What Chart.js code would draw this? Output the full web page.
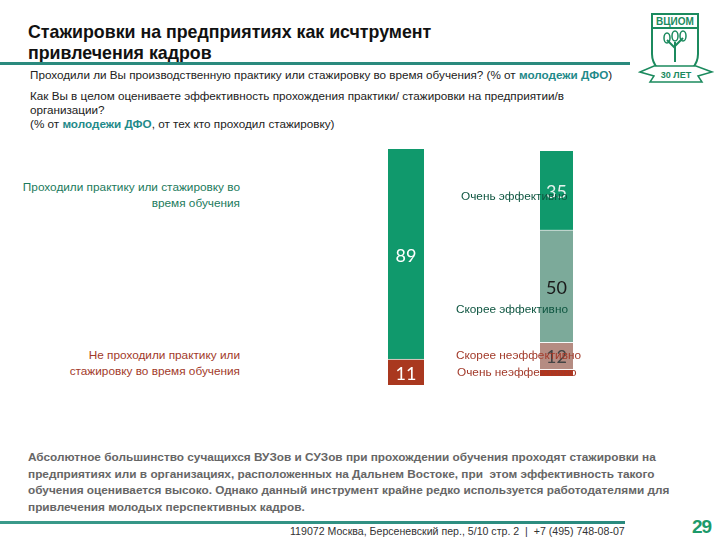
<!DOCTYPE html>
<html><head><meta charset="utf-8">
<script src="https://cdn.jsdelivr.net/npm/chart.js@4"></script>
<style>
html,body{margin:0;padding:0;background:#fff;}
#page{position:relative;width:720px;height:540px;overflow:hidden;font-family:"Liberation Sans",Arial,sans-serif;}
.abs{position:absolute;white-space:nowrap;}
.t{font-weight:bold;font-size:17.8px;color:#111;line-height:21px;}
.q{font-size:11.7px;color:#222;line-height:14px;}
.q b{color:#1f8a8a;}
.lbl{font-size:11.8px;line-height:16px;}
.g{color:#1b7a5c;}
.r{color:#a23a2a;}
.rg{color:#0e5540;}
.body{font-size:11.8px;font-weight:bold;color:#666;line-height:16.5px;}
canvas{position:absolute;}
</style></head>
<body><div id="page">
<div class="abs t" style="left:28px;top:22px;">Стажировки на предприятиях как исчтрумент<br>привлечения кадров</div>
<div class="abs" style="left:0;top:62px;width:630px;height:3px;background:#2a8a7e;"></div>
<div class="abs q" style="left:30px;top:68px;">Проходили ли Вы производственную практику или стажировку во время обучения? (% от <b>молодежи ДФО</b>)</div>
<div class="abs q" style="left:30px;top:89px;">Как Вы в целом оцениваете эффективность прохождения практики/ стажировки на предприятии/в<br>организации?<br>(% от <b>молодежи ДФО</b>, от тех кто проходил стажировку)</div>

<canvas id="c1" width="36" height="236" style="left:388px;top:149px;"></canvas>
<canvas id="c2" width="33" height="225" style="left:540px;top:151px;"></canvas>

<div id="leftLabels"></div>
<div id="rightLabels"></div>

<div class="abs body" style="left:28px;top:449px;">Абсолютное большинство сучащихся ВУЗов и СУЗов при прохождении обучения проходят стажировки на<br>предприятиях или в организациях, расположенных на Дальнем Востоке, при&nbsp; этом эффективность такого<br>обучения оценивается высоко. Однако данный инструмент крайне редко используется работодателями для<br>привлечения молодых перспективных кадров.</div>

<div class="abs" style="left:0;top:521px;width:625px;height:3px;background:linear-gradient(90deg,#3a9a8a,#2a8a7e);"></div>
<div class="abs" style="left:290px;top:525px;font-size:10.6px;color:#333;">119072 Москва, Берсеневский пер., 5/10 стр. 2 &nbsp;|&nbsp; +7 (495) 748-08-07</div>
<div class="abs" style="left:692px;top:516px;font-size:19px;font-weight:bold;color:#1d9a6a;letter-spacing:-1px;">29</div>

<svg class="abs" style="left:636px;top:10px;" width="80" height="80" viewBox="0 0 80 80">
 <path d="M16 4 H62 V44 Q62 60 39 70 Q16 60 16 44 Z" fill="none" stroke="#1b8a5e" stroke-width="2"/>
 <rect x="16" y="4" width="46" height="14" fill="none" stroke="#1b8a5e" stroke-width="2"/>
 <text x="39" y="15" font-size="10" font-weight="bold" text-anchor="middle" fill="#1b8a5e" font-family="Liberation Sans">ВЦИОМ</text>
 <path d="M39 52 V32 M39 38 L31 30 M39 36 L47 28" stroke="#1b8a5e" stroke-width="2" fill="none"/>
 <ellipse cx="31" cy="28" rx="3" ry="5" fill="none" stroke="#1b8a5e" stroke-width="1.5"/>
 <ellipse cx="47" cy="26" rx="3" ry="5" fill="none" stroke="#1b8a5e" stroke-width="1.5"/>
 <ellipse cx="39" cy="26" rx="3" ry="5" fill="none" stroke="#1b8a5e" stroke-width="1.5"/>
 <path d="M4 62 L18 56 L60 56 L76 62 L62 66 L66 72 L14 72 L18 66 Z" fill="#fff" stroke="#1b8a5e" stroke-width="1.5"/>
 <text x="40" y="68" font-size="9" font-weight="bold" text-anchor="middle" fill="#1b8a5e" font-family="Liberation Sans">30 ЛЕТ</text>
</svg>
</div>
<script>
// ---- data ----
const barLeftCategories = ["Проходили практику или стажировку во время обучения", "Не проходили практику или стажировку во время обучения"];
const barLeftValues = [89, 11];
const barRightCategories = ["Очень эффективно", "Скорее эффективно", "Скорее неэффективно", "Очень неэффективно"];
const barRightValues = [35, 50, 12, 3];
const leftLabelLines = [["Проходили практику или стажировку во", "время обучения"], ["Не проходили практику или", "стажировку во время обучения"]];

// ---- styles ----
const leftColors = ["#10996c", "#a9381f"];
const leftTextColors = ["#ffffff", "#ffffff"];
const rightColors = ["#10996c", "#7caa9a", "#b58c82", "#b3351c"];
const rightTextColors = ["#e6f2ee", "#1a1a1a", "#444444", null];

const labelPlugin = {
  id: "vals",
  afterDatasetsDraw(chart, args, opts) {
    const ctx = chart.ctx;
    ctx.save();
    ctx.font = "18px Lato, 'Open Sans', sans-serif";
    ctx.textAlign = "center";
    ctx.textBaseline = "middle";
    chart.data.datasets.forEach((ds, i) => {
      const el = chart.getDatasetMeta(i).data[0];
      const col = opts.colors[i];
      if (!col) return;
      ctx.fillStyle = col;
      ctx.fillText(String(ds.data[0]), el.x, (el.y + el.base) / 2 + (opts.dy ? opts.dy[i] : 0));
    });
    ctx.restore();
  }
};

function makeStack(id, cats, vals, colors, textColors, dy) {
  const datasets = [];
  for (let i = vals.length - 1; i >= 0; i--) {
    datasets.push({
      label: cats[i], data: [vals[i]], backgroundColor: colors[i],
      borderColor: "rgba(255,255,255,0.55)", borderWidth: {top: i === 0 ? 0 : 1, bottom: 0, left: 0, right: 0},
      borderSkipped: false, barPercentage: 1, categoryPercentage: 1
    });
  }
  const tc = textColors.slice().reverse();
  const dd = dy ? dy.slice().reverse() : null;
  return new Chart(document.getElementById(id), {
    type: "bar",
    data: {labels: [""], datasets},
    options: {
      responsive: false, animation: false,
      layout: {padding: 0},
      plugins: {legend: {display: false}, tooltip: {enabled: false}, vals: {colors: tc, dy: dd}},
      scales: {
        x: {stacked: true, display: false},
        y: {stacked: true, display: false, min: 0, max: 100}
      }
    },
    plugins: [labelPlugin]
  });
}
makeStack("c1", barLeftCategories, barLeftValues, leftColors, leftTextColors, [2, 2]);
makeStack("c2", barRightCategories, barRightValues, rightColors, rightTextColors, [2, 2, 1, 0]);

// category labels (HTML text)
const ll = document.getElementById("leftLabels");
const leftTops = [179, 347];
leftLabelLines.forEach((lines, i) => {
  const d = document.createElement("div");
  d.className = "abs lbl " + (i === 0 ? "g" : "r");
  d.style.right = (720 - 240) + "px";
  d.style.top = leftTops[i] + "px";
  d.style.textAlign = "right";
  d.innerHTML = lines.join("<br>");
  ll.appendChild(d);
});
const rl = document.getElementById("rightLabels");
const rightPos = [[461, 188, "rg"], [456, 301, "rg"], [456, 347, "r"], [457, 364, "r"]];
barRightCategories.forEach((c, i) => {
  const d = document.createElement("div");
  d.className = "abs lbl " + rightPos[i][2];
  d.style.left = rightPos[i][0] + "px";
  d.style.top = rightPos[i][1] + "px";
  d.style.zIndex = 5;
  d.textContent = c;
  rl.appendChild(d);
});
</script>
</body></html>
